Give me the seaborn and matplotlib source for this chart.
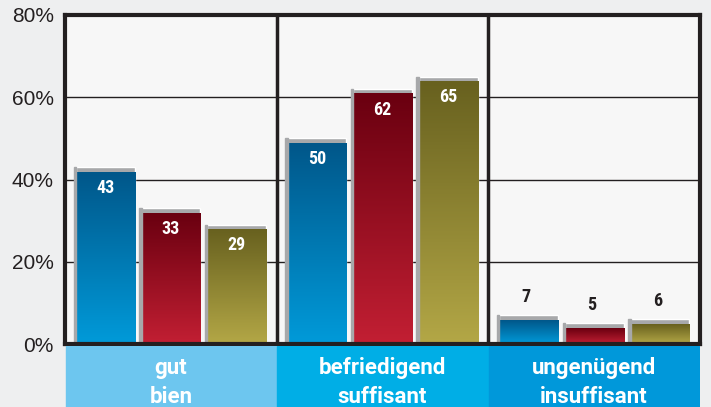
import numpy as np
import pandas as pd
import matplotlib.pyplot as plt
import seaborn as sb
from matplotlib.patches import Rectangle
from matplotlib import font_manager

categories = ["gut\nbien", "befriedigend\nsuffisant", "ungenügend\ninsuffisant"]
series = ["Reihe 1", "Reihe 2", "Reihe 3"]
values_1 = [43, 50, 7]
values_2 = [33, 62, 5]
values_3 = [29, 65, 6]
ytick_labels = ["0%", "20%", "40%", "60%", "80%"]

colors = ["#00689f", "#9a1020", "#8a8030"]
grad_top = ["#00578a", "#6a0010", "#68611f"]
grad_bottom = ["#009ad9", "#c21f33", "#b3a746"]
box_colors = ["#6dc6ef", "#00aee6", "#0098da"]

df = pd.DataFrame({
    "category": np.repeat(categories, 3),
    "series": series * 3,
    "value": [v for trio in zip(values_1, values_2, values_3) for v in trio],
})

narrow = "Liberation Sans Narrow"
names = {f.name for f in font_manager.fontManager.ttflist}
if narrow not in names:
    narrow = "Roboto Condensed" if "Roboto Condensed" in names else "DejaVu Sans"

sb.set_style("white")
plt.rcParams["font.family"] = ["Liberation Sans", "DejaVu Sans"]

fig = plt.figure(figsize=(7.11, 4.07), dpi=100, facecolor="#eeeff0")
ax = fig.add_axes([65 / 711, 1 - 344 / 407, 635 / 711, 329 / 407])
ax.set_facecolor("#f7f7f7")

sb.barplot(data=df, x="category", y="value", hue="series", palette=colors,
           width=0.93, gap=0.1, legend=False, ax=ax, saturation=1)

ax.set_ylim(0, 80)
ax.set_xlim(-0.5, 2.5)

# gradient fills and grey 3D caps
grad = np.linspace(0, 1, 100).reshape(-1, 1)
for i, patch in enumerate(ax.patches[:]):
    s = i // 3
    x0, w, h = patch.get_x(), patch.get_width(), patch.get_height()
    if h <= 0:
        continue
    cmap = sb.blend_palette([grad_top[s], grad_bottom[s]], as_cmap=True)
    ax.imshow(grad, aspect="auto", cmap=cmap, extent=(x0, x0 + w, 0, h - 1.2),
              zorder=3, origin="upper")
    patch.set_facecolor("#a7a8aa")
    patch.set_zorder(2)
    ax.add_patch(Rectangle((x0 - 0.01, 0), 0.012, h, color="#a7a8aa", zorder=3.5))
    if h > 20:
        ax.text(x0 + w / 2, h - 5, f"{h:.0f}", color="white", ha="center", va="center",
                fontsize=13, fontweight="bold", family=narrow, zorder=5)
    else:
        ax.text(x0 + w / 2 - 0.01, h + 4.5, f"{h:.0f}", color="#231f20", ha="center",
                va="center", fontsize=13, fontweight="bold", family=narrow, zorder=5)

for y in [20, 40, 60]:
    ax.axhline(y, color="#231f20", lw=1, zorder=1)
for x in [0.5, 1.5]:
    ax.axvline(x, color="#231f20", lw=2.5, zorder=1)
for sp in ax.spines.values():
    sp.set_visible(True)
    sp.set_color("#231f20")
    sp.set_linewidth(3)
    sp.set_zorder(6)

ax.set_yticks([0, 20, 40, 60, 80])
ax.set_yticklabels(ytick_labels, fontsize=15, color="#231f20")
ax.tick_params(axis="y", length=0, pad=8)
ax.set_xticks([])
ax.set_xlabel("")
ax.set_ylabel("")

# category boxes
ax2 = fig.add_axes([65 / 711, 0, 635 / 711, 61 / 407])
ax2.set_xlim(-0.5, 2.5)
ax2.set_ylim(0, 1)
ax2.axis("off")
for i, lab in enumerate(categories):
    ax2.add_patch(Rectangle((i - 0.5 + 0.003, 0), 0.994, 1, color=box_colors[i]))
    ax2.text(i, 0.40, lab, color="white", ha="center", va="center", fontsize=16,
             fontweight="bold", family="Roboto", linespacing=1.38)

fig.savefig("out.png", dpi=100, facecolor=fig.get_facecolor())
